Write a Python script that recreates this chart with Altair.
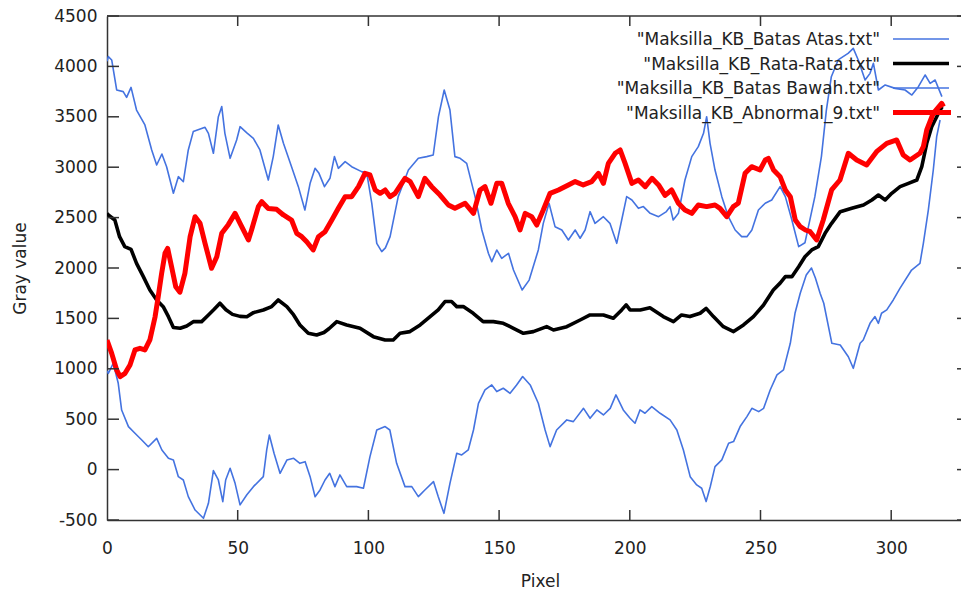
import altair as alt
import pandas as pd

# ---------------- data ----------------
atas_x = [0, 0.5, 1.8, 3.7, 6.2, 7.5, 9.2, 11.3, 14.5, 17.1, 19.0, 21.0, 22.8, 25.4, 27.3, 29.2, 31.1, 33.0,
          37.5, 38.8, 40.7, 42.6, 43.9, 45.1, 47.1, 49.6, 50.9, 53.5, 56.0, 58.5, 61.7, 63.6, 65.5, 67.5, 70.6,
          73.2, 75.7, 77.7, 79.6, 81.1, 83.2, 85.3, 87.0, 88.5, 91.1, 93.6, 97.4, 99.4, 101.3, 103.2, 105.1,
          106.5, 108.3, 111.4, 115.3, 119.1, 122.3, 124.8, 126.8, 129.0, 131.2, 133.1, 135.1, 137.6, 140.8,
          143.4, 145.9, 147.2, 149.1, 151.0, 153.6, 155.5, 158.8, 161.5, 165.0, 166.9, 169.1, 171.4, 174.0,
          176.5, 179.1, 181.0, 182.9, 184.8, 186.7, 189.9, 192.4, 195.0, 196.9, 198.8, 200.8, 203.3, 205.2,
          207.8, 211.0, 214.0, 215.4, 216.6, 218.6, 221.1, 223.7, 226.2, 228.2, 229.4, 230.7, 232.6, 235.2,
          237.7, 240.3, 242.8, 244.8, 246.7, 249.2, 251.8, 254.3, 257.5, 259.5, 262.0, 264.6, 267.0, 270.8,
          273.3, 275.2, 277.1, 279.7, 283.5, 285.5, 287.4, 290.0, 291.9, 293.2, 295.1, 297.7, 301.5, 305.3,
          307.9, 310.4, 313.0, 314.9, 316.8, 318.1, 319.4]
atas_y = [4050, 4097, 4064, 3766, 3750, 3693, 3792, 3567, 3419, 3171, 3022, 3131, 3005, 2741, 2906, 2856, 3171, 3353,
          3396, 3336, 3138, 3501, 3601, 3336, 3088, 3270, 3402, 3340, 3286, 3171, 2873, 3105, 3419, 3237, 3005,
          2807, 2575, 2840, 2989, 2939, 2807, 2890, 3105, 2989, 3055, 3005, 2956, 2939, 2642, 2245, 2162,
          2200, 2311, 2708, 2972, 3088, 3105, 3121, 3501, 3766, 3567, 3105, 3088, 3038, 2708,
          2377, 2146, 2063, 2179, 2096, 2146, 1980, 1782, 1880, 2179, 2443, 2642, 2410, 2377,
          2278, 2377, 2295, 2377, 2559, 2443, 2509, 2443, 2245, 2476, 2708, 2675, 2592, 2609,
          2542, 2509, 2560, 2609, 2476, 2542, 2873, 3105, 3204, 3336, 3501, 3237, 2972, 2708,
          2509, 2377, 2311, 2311, 2377, 2575, 2642, 2675, 2807, 2708, 2476, 2212, 2250, 2708,
          3105, 3567, 3898, 4064, 4130, 4179, 4064, 3865, 3931, 4030, 3766, 3816, 3782, 3766,
          3716, 3799, 3915, 3832, 3865, 3782, 3700]

rata_x = [0, 0.5, 3.0, 4.8, 6.8, 9.2, 11.3, 13.9, 16.4, 19.0, 21.5, 23.5, 25.4, 28.0, 30.5, 33.0, 36.2, 38.8,
          41.0, 43.2, 45.5, 48.0, 50.9, 53.5, 56.0, 59.8, 63.0, 65.5, 68.8, 71.4, 73.8, 77.0, 80.2, 83.0, 85.0,
          87.9, 91.7, 96.8, 101.9, 106.4, 109.5, 112.1, 115.9, 119.8, 123.6, 126.7, 129.3, 131.8, 133.8, 136.3,
          140.1, 143.9, 147.8, 151.6, 155.5, 159.3, 163.1, 168.2, 170.8, 175.9, 181.0, 184.8, 189.9, 193.7,
          196.9, 198.6, 200.1, 204.0, 207.7, 212.8, 216.7, 219.8, 223.0, 226.9, 229.2, 232.0, 235.8, 239.7,
          243.5, 247.3, 251.1, 254.9, 257.5, 259.5, 262.0, 264.6, 267.0, 269.6, 272.1, 274.7, 277.2, 280.5,
          284.9, 289.4, 292.6, 295.1, 297.7, 300.2, 303.4, 306.6, 309.8, 311.7, 313.6, 315.5, 317.4, 318.7, 319.5]
rata_y = [2540, 2526, 2476, 2311, 2212, 2185, 2046, 1914, 1782, 1683, 1616, 1517, 1410, 1402, 1425, 1468, 1468, 1534,
          1590, 1650, 1585, 1540, 1520, 1517, 1557, 1583, 1617, 1683, 1617, 1534, 1435, 1352, 1335, 1360, 1400,
          1468, 1435, 1402, 1319, 1286, 1286, 1352, 1369, 1435, 1517, 1584, 1667, 1667, 1617, 1617,
          1551, 1468, 1468, 1451, 1402, 1352, 1369, 1418, 1385, 1418, 1484, 1534, 1534, 1501,
          1584, 1634, 1584, 1584, 1605, 1518, 1468, 1534, 1518, 1551, 1600, 1518, 1418, 1369,
          1435, 1518, 1630, 1782, 1850, 1914, 1914, 2013, 2112, 2179, 2212, 2344, 2443, 2559,
          2592, 2625, 2675, 2724, 2675, 2741, 2807, 2840, 2873, 3005, 3237, 3402, 3501, 3567, 3600]

bawah_x = [0, 0.5, 2.4, 4.3, 5.6, 8.2, 10.7, 13.3, 15.8, 19.0, 21.0, 23.5, 25.4, 27.3, 29.2, 31.1, 33.7, 36.9,
           38.8, 40.7, 42.6, 44.3, 45.4, 47.1, 49.0, 50.9, 53.5, 56.0, 59.8, 61.1, 62.1, 63.9, 66.2, 68.8, 71.4,
           73.8, 75.8, 77.7, 79.6, 81.5, 83.4, 85.2, 87.2, 89.1, 91.7, 95.5, 98.1, 100.6, 103.2, 106.4, 108.2,
           110.8, 114.0, 116.6, 119.1, 121.6, 124.9, 126.7, 128.9, 131.2, 133.8, 135.7, 138.2, 140.2, 142.1,
           144.6, 147.2, 149.1, 151.6, 154.2, 156.7, 159.0, 161.9, 165.0, 167.6, 169.5, 172.0, 175.9, 178.4,
           182.3, 184.8, 187.4, 189.9, 192.5, 194.7, 197.5, 200.1, 202.0, 203.9, 205.8, 208.4, 211.6, 215.4,
           218.0, 220.5, 223.1, 225.6, 227.5, 229.2, 230.8, 232.6, 235.2, 237.8, 239.7, 242.2, 244.8, 246.7,
           249.3, 251.2, 253.7, 256.3, 258.8, 261.4, 263.2, 265.2, 267.5, 269.5, 271.0, 272.8, 274.2, 277.3,
           280.5, 283.6, 285.5, 288.1, 289.3, 291.9, 293.8, 295.1, 296.3, 298.3, 300.8, 303.4, 307.8, 311.0,
           312.3, 314.2, 316.1, 317.4, 318.7]
bawah_y = [980, 955, 1054, 856, 591, 426, 360, 294, 227, 310, 194, 112, 95, -70, -103, -268, -401, -483,
           -334, -10, -103, -318, -103, 13, -136, -350, -250, -169, -70, 195, 343, 162, -37, 95, 112,
           62, 79, -70, -269, -202, -103, -37, -169, -53, -169, -169, -185, 129, 393, 427, 393,
           62, -169, -169, -268, -202, -119, -268, -434, -136, 162, 145, 195, 393, 658,
           790, 840, 774, 807, 757, 840, 923, 840, 658, 393, 228, 393, 493, 476,
           608, 509, 592, 542, 608, 741, 592, 509, 460, 592, 559, 625, 559, 493,
           393, 195, -70, -152, -185, -317, -168, 30, 96, 261, 278, 427, 526, 608,
           575, 608, 790, 939, 989, 1253, 1551, 1749, 1930, 2000, 1900, 1749, 1650, 1253,
           1236, 1120, 1005, 1253, 1286, 1451, 1518, 1451, 1551, 1584, 1683, 1800, 1980, 2046,
           2245, 2575, 2972, 3303, 3468]

abn_x = [0, 1.8, 3.7, 5.0, 6.9, 8.8, 10.7, 12.6, 14.5, 16.4, 18.4, 19.6, 20.9, 22.2, 23.2, 24.7, 26.3, 27.9,
         29.8, 31.8, 33.7, 35.6, 37.5, 40.0, 42.0, 43.9, 46.4, 49.0, 50.9, 54.1, 55.3, 57.9, 59.2, 61.7, 64.9,
         67.5, 70.6, 72.6, 74.5, 76.4, 78.9, 80.9, 83.4, 86.0, 88.5, 91.1, 93.6, 96.2, 98.7, 100.6, 102.6,
         104.5, 106.4, 108.3, 110.2, 114.0, 116.0, 119.1, 121.6, 124.2, 127.4, 130.6, 133.1, 137.0, 140.2,
         142.7, 144.6, 146.9, 149.1, 151.0, 153.5, 156.1, 158.0, 160.0, 162.5, 164.4, 166.9, 169.5, 172.7,
         176.5, 179.1, 182.2, 185.4, 188.0, 189.9, 191.8, 194.4, 196.3, 198.2, 200.8, 203.3, 205.9, 208.5,
         211.0, 213.5, 216.0, 218.6, 221.1, 223.7, 226.2, 229.4, 232.6, 234.5, 237.1, 239.6, 241.5, 244.1,
         246.6, 249.8, 251.8, 253.0, 255.0, 257.5, 259.5, 261.4, 263.3, 265.2, 267.2, 269.0, 271.5, 274.0,
         277.2, 280.4, 283.6, 286.8, 290.6, 294.4, 298.3, 302.1, 304.6, 307.2, 311.0, 312.3, 313.6, 316.1,
         319.3, 320.0]
abn_y = [1286, 1153, 988, 922, 955, 1038, 1187, 1203, 1187, 1286, 1517, 1716, 1947, 2146, 2195, 2013, 1815, 1760,
         1947, 2311, 2509, 2443, 2245, 1997, 2112, 2344, 2430, 2542, 2443, 2278, 2377, 2609, 2658, 2590, 2582,
         2526, 2476, 2344, 2311, 2260, 2179, 2311, 2360, 2476, 2592, 2708, 2708, 2807, 2939, 2923, 2774,
         2741, 2774, 2708, 2741, 2890, 2857, 2708, 2890, 2807, 2724, 2625, 2592, 2642, 2542,
         2774, 2807, 2642, 2840, 2840, 2642, 2509, 2377, 2542, 2509, 2426, 2575, 2741, 2774,
         2824, 2857, 2824, 2857, 2939, 2840, 3038, 3138, 3171, 3038, 2840, 2873, 2807, 2890,
         2824, 2720, 2774, 2642, 2575, 2542, 2625, 2609, 2625, 2592, 2509, 2609, 2642, 2939,
         3005, 2972, 3071, 3088, 2972, 2906, 2774, 2708, 2476, 2410, 2377, 2360, 2278, 2476,
         2774, 2873, 3138, 3071, 3022, 3154, 3237, 3270, 3121, 3071, 3138, 3204, 3369, 3535,
         3634, 3600]

series_labels = ['"Maksilla_KB_Batas Atas.txt"', '"Maksilla_KB_Rata-Rata.txt"',
                 '"Maksilla_KB_Batas Bawah.txt"', '"Maksilla_KB_Abnormal_9.txt"']
series_colors = ["#4473e0", "#000000", "#4473e0", "#ff0000"]
series_widths = [1.6, 3.6, 1.6, 5.0]

x_tick_values = [0, 50, 100, 150, 200, 250, 300]
y_tick_values = [-500, 0, 500, 1000, 1500, 2000, 2500, 3000, 3500, 4000, 4500]

# ---------------- layout ----------------
W, H = 854, 504
XMAX = W / 2.614
FONT = "DejaVu Sans"
TXT = "#222222"
BORDER = "#333333"
PLAIN = "'' + datum.value"

xscale = alt.Scale(domain=[0, XMAX], nice=False, zero=False)
yscale = alt.Scale(domain=[-500, 4500], nice=False, zero=False)

x_axis = alt.Axis(values=x_tick_values, ticks=False, tickSize=0, grid=False, domain=True,
                  domainColor=BORDER, domainWidth=1.5, labelFont=FONT, labelFontSize=17,
                  labelColor=TXT, labelPadding=20, labelFlush=False, labelExpr=PLAIN,
                  title="Pixel", titleFont=FONT,
                  titleFontSize=17, titleFontWeight="normal", titleColor=TXT, titleX=433, titleY=66,
                  titleAlign="center", titleBaseline="alphabetic")
y_axis = alt.Axis(values=y_tick_values, ticks=False, tickSize=0, grid=False, domain=True,
                  domainColor=BORDER, domainWidth=1.5, labelFont=FONT, labelFontSize=17,
                  labelColor=TXT, labelPadding=10, labelFlush=False, labelExpr=PLAIN,
                  title="Gray value", titleFont=FONT,
                  titleFontSize=17, titleFontWeight="normal", titleColor=TXT, titleX=-82, titleY=252,
                  titleAngle=270, titleAlign="center", titleBaseline="alphabetic")

all_x = [atas_x, rata_x, bawah_x, abn_x]
all_y = [atas_y, rata_y, bawah_y, abn_y]

layers = []
for i in range(4):
    df = pd.DataFrame({"px": all_x[i], "v": all_y[i]})
    layers.append(
        alt.Chart(df).mark_line(color=series_colors[i], strokeWidth=series_widths[i],
                                strokeJoin="round", clip=True).encode(
            x=alt.X("px:Q", scale=xscale, axis=x_axis),
            y=alt.Y("v:Q", scale=yscale, axis=y_axis),
        )
    )

# inward tick marks (gnuplot style) on all sides
xt = pd.DataFrame({"px": x_tick_values[1:]})
yt = pd.DataFrame({"v": y_tick_values})
tick_style = dict(color=BORDER, strokeWidth=1.5)
layers.append(alt.Chart(xt).mark_rule(**tick_style).encode(
    x=alt.X("px:Q", scale=xscale, axis=x_axis), y=alt.value(H), y2=alt.value(H - 10)))
layers.append(alt.Chart(xt).mark_rule(**tick_style).encode(
    x=alt.X("px:Q", scale=xscale, axis=x_axis), y=alt.value(0), y2=alt.value(10)))
layers.append(alt.Chart(yt).mark_rule(**tick_style).encode(
    y=alt.Y("v:Q", scale=yscale, axis=y_axis), x=alt.value(0), x2=alt.value(12)))
layers.append(alt.Chart(yt).mark_rule(**tick_style).encode(
    y=alt.Y("v:Q", scale=yscale, axis=y_axis), x=alt.value(W - 4), x2=alt.value(W)))
# top border
layers.append(alt.Chart(pd.DataFrame({"a": [0]})).mark_rule(**tick_style).encode(
    x=alt.value(0), x2=alt.value(W), y=alt.value(0)))

# legend (gnuplot style: label right-aligned, sample to the right)
legend_rows_y = [23, 47.5, 72, 96.5]
for i in range(4):
    ldf = pd.DataFrame({"label": [series_labels[i]]})
    layers.append(alt.Chart(ldf).mark_text(align="right", baseline="middle", font=FONT,
                                           fontSize=17, color=TXT).encode(
        text="label:N", x=alt.value(773), y=alt.value(legend_rows_y[i] + 1)))
    layers.append(alt.Chart(ldf).mark_rule(color=series_colors[i], strokeWidth=series_widths[i]).encode(
        x=alt.value(786), x2=alt.value(842 if i < 3 else 844), y=alt.value(legend_rows_y[i])))

chart = alt.layer(*layers).properties(
    width=W, height=H,
    autosize=alt.AutoSizeParams(type="none"),
    padding={"left": 107, "top": 16, "right": 0, "bottom": 72},
    background="white",
).configure_view(stroke=None)

chart.save("out.html", embed_options={"renderer": "svg", "actions": False})
